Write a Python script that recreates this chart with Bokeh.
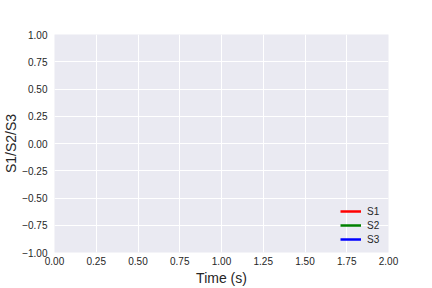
from bokeh.plotting import figure
from bokeh.models import Range1d, FixedTicker, Legend, LegendItem
from bokeh.embed import file_html
from bokeh.resources import INLINE

nan = float("nan")

# Data (the series show no visible points in the reference)
time = [0.0, 2.0]
s1 = [nan, nan]
s2 = [nan, nan]
s3 = [nan, nan]
series_names = ["S1", "S2", "S3"]
series_colors = ["red", "green", "blue"]

x_ticks = [0.0, 0.25, 0.5, 0.75, 1.0, 1.25, 1.5, 1.75, 2.0]
y_ticks = [-1.0, -0.75, -0.5, -0.25, 0.0, 0.25, 0.5, 0.75, 1.0]

def fmt(v):
    s = "%.2f" % abs(v)
    return ("\u2212" + s) if v < 0 else s

p = figure(width=432, height=288, output_backend="svg", toolbar_location=None,
           x_range=Range1d(0, 2), y_range=Range1d(-1, 1),
           min_border_left=54, min_border_right=44, min_border_top=34, min_border_bottom=36)
p.background_fill_color = "#EAEAF2"
p.border_fill_color = "white"
p.outline_line_color = None

renderers = []
for name, ys, c in zip(series_names, [s1, s2, s3], series_colors):
    r = p.line(time, ys, line_color=c, line_width=2.5)
    renderers.append((name, r))

legend = Legend(items=[LegendItem(label=n, renderers=[r]) for n, r in renderers],
                location="bottom_right")
legend.background_fill_alpha = 0
legend.border_line_color = None
legend.label_text_font = "Liberation Sans"
legend.label_text_font_size = "10px"
legend.label_text_color = "#262626"
legend.label_standoff = 6
legend.label_height = 12
legend.label_width = 14
legend.glyph_width = 21
legend.glyph_height = 12
legend.spacing = 2
legend.padding = 6
legend.margin = 7
p.add_layout(legend)

for ax, ticks, label in [(p.xaxis[0], x_ticks, "Time (s)"), (p.yaxis[0], y_ticks, "S1/S2/S3")]:
    ax.ticker = FixedTicker(ticks=ticks)
    ax.major_label_overrides = {t: fmt(t) for t in ticks}
    ax.axis_line_color = None
    ax.major_tick_line_color = None
    ax.minor_tick_line_color = None
    ax.major_tick_out = 0
    ax.major_tick_in = 0
    ax.major_label_text_font = "Liberation Sans"
    ax.major_label_text_font_size = "10px"
    ax.major_label_text_color = "#262626"
    ax.axis_label = label
    ax.axis_label_text_font = "Liberation Sans"
    ax.axis_label_text_font_size = "14px"
    ax.axis_label_text_font_style = "normal"
    ax.axis_label_text_color = "#262626"

p.xaxis.major_label_standoff = 4
p.yaxis.major_label_standoff = 7
p.xaxis.axis_label_standoff = 2
p.yaxis.axis_label_standoff = 0

for g, ticks in [(p.xgrid[0], x_ticks), (p.ygrid[0], y_ticks)]:
    g.ticker = FixedTicker(ticks=ticks)
    g.grid_line_color = "white"
    g.grid_line_width = 1

open("out.html", "w").write(file_html(p, INLINE))
